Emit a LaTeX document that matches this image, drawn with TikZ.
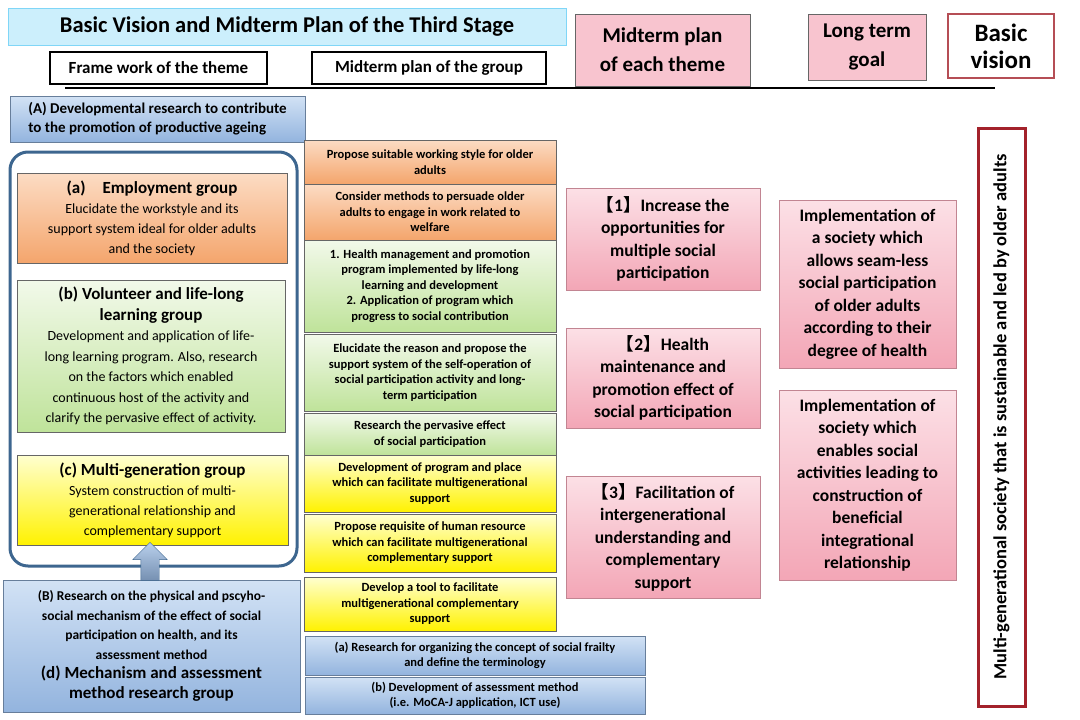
\documentclass[tikz,border=0pt]{standalone}
\usepackage{fontspec}
\setmainfont{Carlito}
\newfontfamily\cjk{Noto Sans CJK JP}
\newcommand{\lb}{{\cjk\bfseries 【}}
\newcommand{\rb}{{\cjk\bfseries 】}}
\usetikzlibrary{shapes.arrows}
\definecolor{bluetop}{HTML}{D2E2F5}\definecolor{bluebot}{HTML}{93B4DE}
\definecolor{ortop}{HTML}{FCDCC4}\definecolor{orbot}{HTML}{F4A56C}
\definecolor{grtop}{HTML}{F2F9EA}\definecolor{grbot}{HTML}{BFE39A}
\definecolor{yetop}{HTML}{FFFFD0}\definecolor{yebot}{HTML}{FFF200}
\definecolor{pink}{HTML}{F8C4CF}\definecolor{pinktop}{HTML}{FCE0E6}\definecolor{pinkbot}{HTML}{F3A6B6}
\definecolor{dred}{HTML}{A3222B}\definecolor{frame}{HTML}{3D668F}
\begin{document}
\begin{tikzpicture}[x=1pt,y=-1pt,
 bx/.style={draw=black!60,line width=0.6pt,align=center,inner sep=1pt},
 blu/.style={bx,top color=bluetop,bottom color=bluebot,draw=bluebot!70!black},
 ora/.style={bx,top color=ortop,bottom color=orbot},
 gre/.style={bx,top color=grtop,bottom color=grbot},
 yel/.style={bx,top color=yetop,bottom color=yebot},
 pnk/.style={bx,top color=pinktop,bottom color=pinkbot,draw=pinkbot!80!black},
 sm/.style={font=\fontsize{12.5}{15.5}\selectfont\bfseries},
 hd/.style={draw=black,line width=1.6pt,fill=white,font=\fontsize{17}{18}\selectfont\bfseries}]
\useasboundingbox (0,0) rectangle (1080,720);
% header
\node[bx,fill=cyan!20,draw=cyan!50,minimum width=558pt,minimum height=37pt,font=\fontsize{22.5}{24}\selectfont\bfseries] (title) at (287,26.5) {Basic Vision and Midterm Plan of the Third Stage};
\node[hd,minimum width=217pt,minimum height=32pt] (fw) at (158.5,68) {Frame work of the theme};
\node[hd,minimum width=234pt,minimum height=32pt] (mg) at (429,68) {Midterm plan of the group};
\node[bx,fill=pink,minimum width=175pt,minimum height=72pt,font=\fontsize{21}{29}\selectfont\bfseries] (mt) at (662.5,50) {Midterm plan\\of each theme};
\node[bx,fill=pink,minimum width=118pt,minimum height=66pt,font=\fontsize{21}{29}\selectfont\bfseries] (lt) at (867,47) {Long term\\goal};
\node[bx,fill=white,draw=dred!80,line width=2pt,minimum width=106pt,minimum height=64pt,font=\fontsize{25}{27}\selectfont\bfseries] (bv) at (1001,46) {Basic\\vision};
\coordinate (l1) at (65,88); \coordinate (l2) at (995,88);
\draw[line width=2.2pt] (l1) -- (l2);
% left
\node[blu,minimum width=295pt,minimum height=46pt,font=\fontsize{15}{19}\selectfont\bfseries,align=left] (A) at (157.5,119) {(A) Developmental research to contribute\\to the promotion of productive ageing};
\node[draw=frame,line width=3pt,rounded corners=18pt,minimum width=287pt,minimum height=414pt] (big) at (153.5,359) {};
\node[ora,minimum width=270pt,minimum height=90pt,font=\fontsize{14}{20}\selectfont] (ga) at (152,218) {\fontsize{17}{21}\selectfont\bfseries (a)\quad Employment group\\Elucidate the workstyle and its\\support system ideal for older adults\\and the society};
\node[gre,minimum width=268pt,minimum height=152pt,font=\fontsize{14}{20.5}\selectfont] (gb) at (151,356) {\fontsize{17}{22.5}\selectfont\bfseries (b) Volunteer and life-long\\\fontsize{17}{22.5}\selectfont\bfseries learning group\\Development and application of life-\\long learning program. Also, research\\on the factors which enabled\\continuous host of the activity and\\clarify the pervasive effect of activity.};
\node[yel,minimum width=271pt,minimum height=90pt,font=\fontsize{14}{20}\selectfont] (gc) at (152.5,500) {\fontsize{17}{21}\selectfont\bfseries (c) Multi-generation group\\System construction of multi-\\generational relationship and\\complementary support};
\node[blu,minimum width=297pt,minimum height=132pt,font=\fontsize{13.5}{19.5}\selectfont\bfseries] (B) at (151.5,646) {(B) Research on the physical and pscyho-\\social mechanism of the effect of social\\participation on health, and its\\assessment method\\\fontsize{17}{21}\selectfont (d) Mechanism and assessment\\\fontsize{17}{21}\selectfont method research group};
\node[single arrow,shape border rotate=90,top color=bluetop!60!bluebot,bottom color=bluebot!80!black,draw=frame,minimum height=38pt,inner sep=9pt,single arrow head extend=8pt] (arr) at (150,566) {};
% middle
\node[ora,sm,minimum width=252pt,minimum height=44pt] (m1) at (430,162) {Propose suitable working style for older\\adults};
\node[ora,sm,minimum width=252pt,minimum height=56pt] (m2) at (430,212) {Consider methods to persuade older\\adults to engage in work related to\\welfare};
\node[gre,sm,minimum width=252pt,minimum height=92pt] (m3) at (430,286) {1. Health management and promotion\\program implemented by life-long\\learning and development\\2. Application of program which\\progress to social contribution};
\node[gre,sm,minimum width=252pt,minimum height=77pt] (m4) at (430,372.5) {Elucidate the reason and propose the\\support system of the self-operation of\\social participation activity and long-\\term participation};
\node[gre,sm,minimum width=252pt,minimum height=42pt] (m5) at (430,434) {Research the pervasive effect\\of social participation};
\node[yel,sm,minimum width=252pt,minimum height=57pt] (m6) at (430,483.5) {Development of program and place\\which can facilitate  multigenerational\\support};
\node[yel,sm,minimum width=252pt,minimum height=58pt] (m7) at (430,543) {Propose requisite of human resource\\which can facilitate  multigenerational\\complementary support};
\node[yel,sm,minimum width=252pt,minimum height=54pt] (m8) at (430,604) {Develop a tool to facilitate\\multigenerational complementary\\support};
\node[blu,sm,minimum width=340pt,minimum height=39pt] (ba) at (475,655.5) {(a) Research for organizing the concept of social frailty\\and define the terminology};
\node[blu,sm,minimum width=340pt,minimum height=37pt] (bb) at (475,695.5) {(b) Development of assessment method\\(i.e. MoCA-J application, ICT use)};
% themes
\node[pnk,minimum width=194pt,minimum height=102pt,font=\fontsize{17.5}{22.5}\selectfont\bfseries] (t1) at (663,239) {\lb 1\rb Increase the\\opportunities for\\multiple social\\participation};
\node[pnk,minimum width=194pt,minimum height=100pt,font=\fontsize{17.5}{22.5}\selectfont\bfseries] (t2) at (663,378) {\lb 2\rb Health\\maintenance and\\promotion effect of\\social participation};
\node[pnk,minimum width=194pt,minimum height=122pt,font=\fontsize{17.5}{22.5}\selectfont\bfseries] (t3) at (663,537) {\lb 3\rb Facilitation of\\intergenerational\\understanding and\\complementary\\support};
% long term
\node[pnk,minimum width=177pt,minimum height=168pt,font=\fontsize{17.5}{22.5}\selectfont\bfseries] (g1) at (867.5,284) {Implementation of\\a society which\\allows seam-less\\social participation\\of older adults\\according to their\\degree of health};
\node[pnk,minimum width=177pt,minimum height=190pt,font=\fontsize{17.5}{22.5}\selectfont\bfseries] (g2) at (867.5,485) {Implementation of\\society which\\enables social\\activities leading to\\construction of\\beneficial\\integrational\\relationship};
% vision
\node[draw=dred,line width=3pt,fill=white,minimum width=47pt,minimum height=578pt] (v) at (1001.5,417) {};
\node[rotate=90,font=\fontsize{18.5}{19}\selectfont\bfseries] (vt) at (v.center) {Multi-generational society that is sustainable and led by older adults};
\end{tikzpicture}
\end{document}
